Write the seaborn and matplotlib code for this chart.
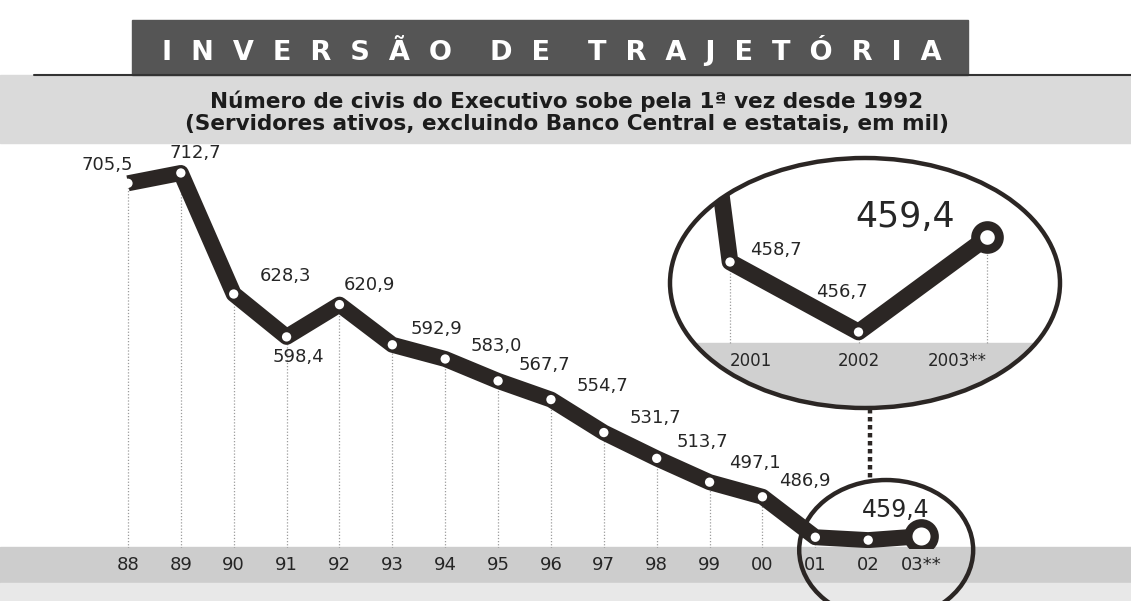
import matplotlib
matplotlib.use('Agg')
import pandas as pd
import matplotlib.pyplot as plt
import seaborn as sns
from matplotlib.patches import Ellipse, Rectangle
from matplotlib.lines import Line2D

# dados do gráfico (servidores civis ativos do Executivo, em mil)
anos = ['88', '89', '90', '91', '92', '93', '94', '95', '96', '97', '98', '99', '00', '01', '02', '03**']
servidores = [705.5, 712.7, 628.3, 598.4, 620.9, 592.9, 583.0, 567.7, 554.7, 531.7,
              513.7, 497.1, 486.9, 458.7, 456.7, 459.4]

# detalhe ampliado (2000 entra só para o traço que chega no círculo)
anos_zoom = [2000, 2001, 2002, 2003]
servidores_zoom = [486.9, 458.7, 456.7, 459.4]
rotulos_zoom = ['2001', '2002', '2003**']

titulo = '  '.join('INVERSÃO') + '    ' + '  '.join('DE') + '    ' + '  '.join('TRAJETÓRIA')
subtitulo = ('Número de civis do Executivo sobe pela 1ª vez desde 1992\n'
             '(Servidores ativos, excluindo Banco Central e estatais, em mil)')

def virgula(v):
    return f'{v:.1f}'.replace('.', ',')

df = pd.DataFrame({'pos': range(len(anos)), 'ano': anos, 'valor': servidores})
dz = pd.DataFrame({'ano': anos_zoom, 'valor': servidores_zoom})

sns.set_style('white')
plt.rcParams['font.family'] = ['DejaVu Sans']

ESCURO = '#2b2624'
W, H = 1131, 601
fig = plt.figure(figsize=(W / 100, H / 100), dpi=100)
fig.patch.set_facecolor('white')

def fx(px):
    return px / W

def fy(py):
    return 1 - py / H

# faixas de fundo
fig.add_artist(Rectangle((fx(132), fy(75)), fx(968 - 132), 55 / H, transform=fig.transFigure,
                         color='#555555', zorder=-2))
fig.add_artist(Rectangle((0, fy(143)), 1, 68 / H, transform=fig.transFigure,
                         color='#dadada', zorder=-3))
fig.add_artist(Line2D([0.03, 1], [fy(75), fy(75)], transform=fig.transFigure,
                      color='#333333', lw=1.5, zorder=-1))
fig.add_artist(Rectangle((0, fy(583)), 1, 36 / H, transform=fig.transFigure,
                         color='#cdcdcd', zorder=-3))
fig.add_artist(Rectangle((0, 0), 1, 18 / H, transform=fig.transFigure,
                         color='#e8e8e8', zorder=-3))

fig.text(fx(552), fy(51), titulo, color='white', fontsize=19.5, fontweight='bold',
         ha='center', va='center')
fig.text(fx(567), fy(112), subtitulo, color='#1c1c1c', fontsize=15.5, fontweight='bold',
         ha='center', va='center', linespacing=1.1)

# gráfico principal
ax = fig.add_axes([0, fy(548), 1, (548 - 145) / H])
ax.set_facecolor('none')
ax.set_xlim(-2.42, 18.97)
ax.set_ylim(451.2, 732.2)

ax.vlines(df['pos'], 451.2, df['valor'], colors='#9c9c9c', linestyles=(0, (1, 1.5)), lw=0.9, zorder=1)
sns.lineplot(data=df, x='pos', y='valor', ax=ax, color=ESCURO, linewidth=11.5,
             solid_joinstyle='round', solid_capstyle='butt', zorder=3)
sns.scatterplot(data=df.iloc[:-1], x='pos', y='valor', ax=ax, color='white', s=45,
                edgecolor='none', zorder=4)
ax.plot(df['pos'].iloc[-1], df['valor'].iloc[-1], 'o', ms=19, mfc='white', mec=ESCURO,
        mew=6, zorder=5)

deslocamentos = [(-21, 18), (14, 20), (52, 18), (12, -20), (30, 20), (44, 16), (51, 13),
                 (46, 16), (51, 14), (52, 15), (46, 16), (45, 19), (42, 16), None, None, (-25, 26)]
for (i, row), d in zip(df.iterrows(), deslocamentos):
    if d is None:
        continue
    grande = i == len(df) - 1
    ax.annotate(virgula(row['valor']), (row['pos'], row['valor']), xytext=d,
                textcoords='offset pixels', ha='center', va='center',
                fontsize=17 if grande else 13, color='#262626', zorder=6)

ax.set_xticks(df['pos'])
ax.set_xticklabels(df['ano'], fontsize=13, color='#262626')
ax.tick_params(axis='x', length=0, pad=6)
ax.set_yticks([])
ax.set_xlabel('')
ax.set_ylabel('')
sns.despine(ax=ax, left=True, bottom=True)

# círculo que destaca 2001-2003 no gráfico principal
ax.add_patch(Ellipse((14.34, 449.8), 3.29, 97.6, fill=False, ec=ESCURO, lw=3.2,
                     clip_on=False, zorder=7))

# ligação pontilhada
fig.add_artist(Line2D([fx(870), fx(870)], [fy(409), fy(478)], transform=fig.transFigure,
                      color=ESCURO, lw=3.2, ls=(0, (1, 0.8)), zorder=3))

# detalhe ampliado
az = fig.add_axes([fx(670), fy(408), fx(390), 250 / H], zorder=2)
az.set_facecolor('none')
az.set_axisbelow(False)
az.set_xlim(2000.533, 2003.568)
az.set_ylim(454.53, 461.67)
moldura = Ellipse((0.5, 0.5), 1, 1, transform=az.transAxes, fc='white', ec='none', zorder=0)
az.add_patch(moldura)
faixa = az.axhspan(454.53, 456.39, color='#d0d0d0', zorder=1)
faixa.set_clip_path(moldura)
az.vlines(dz['ano'][1:], 456.39, dz['valor'][1:], colors='#9c9c9c',
          linestyles=(0, (1, 1.5)), lw=0.9, zorder=2)
sns.lineplot(data=dz, x='ano', y='valor', ax=az, color=ESCURO, linewidth=12,
             solid_joinstyle='round', solid_capstyle='butt', zorder=3)
for ln in az.get_lines():
    ln.set_clip_path(moldura)
sns.scatterplot(data=dz.iloc[1:3], x='ano', y='valor', ax=az, color='white', s=45,
                edgecolor='none', zorder=4)
az.plot(dz['ano'].iloc[-1], dz['valor'].iloc[-1], 'o', ms=17, mfc='white', mec=ESCURO,
        mew=6.5, zorder=5, clip_on=False)
az.add_patch(Ellipse((0.5, 0.5), 1, 1, transform=az.transAxes, fill=False, ec=ESCURO,
                     lw=3.2, zorder=6, clip_on=False))

desloc_zoom = [(46, 12), (-17, 40), (-82, 20)]
for (ano, val), d, fs in zip(zip(dz['ano'][1:], dz['valor'][1:]), desloc_zoom, [13, 13, 25]):
    az.annotate(virgula(val), (ano, val), xytext=d, textcoords='offset pixels',
                ha='center', va='center', fontsize=fs, color='#262626', zorder=7)

az.set_xticks(anos_zoom[1:])
az.set_xticklabels(rotulos_zoom, fontsize=12, color='#262626')
for lab, ha in zip(az.get_xticklabels(), ['left', 'center', 'right']):
    lab.set_ha(ha)
az.tick_params(axis='x', length=0, pad=-40)
az.set_yticks([])
az.set_xlabel('')
az.set_ylabel('')
sns.despine(ax=az, left=True, bottom=True)

fig.savefig('out.png', dpi=100)
